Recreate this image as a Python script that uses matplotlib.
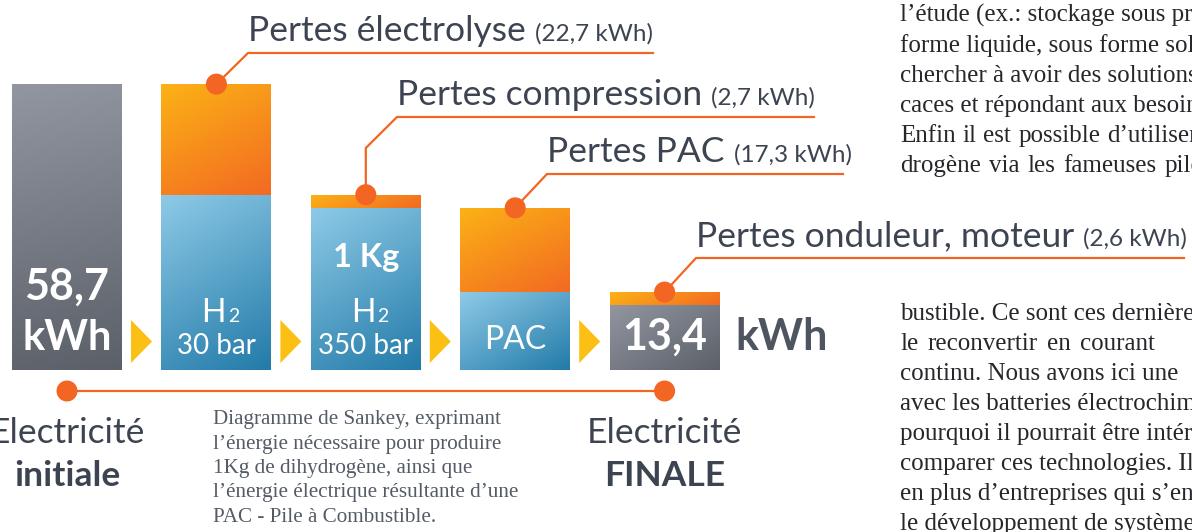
import numpy as np
import matplotlib.pyplot as plt
from matplotlib.patches import Polygon, Circle
from matplotlib.colors import LinearSegmentedColormap

# Energie pour 1 kg de H2 (kWh)
etapes = ["initiale", "H2 30 bar", "H2 350 bar", "PAC", "FINALE"]
energie_utile = [58.7, 36.0, 33.3, 16.0, 13.4]
pertes = [0.0, 22.7, 2.7, 17.3, 2.6]
pertes_noms = ["Pertes électrolyse", "Pertes compression", "Pertes PAC",
               "Pertes onduleur, moteur"]
pertes_kwh = ["22,7", "2,7", "17,3", "2,6"]

W, H = 1192, 532
BASE = 370        # ligne de base des barres (px)
K = 4.87          # px par kWh
SANS = "Lato"
SERIF = "Liberation Serif"
TXT = "#3d4451"
ORANGE = "#f26522"
JAUNE = "#fcbf14"

fig = plt.figure(figsize=(W / 100, H / 100), dpi=100)

# axe des barres en kWh
axb = fig.add_axes([0, 0, 1, 1])
axb.set_xlim(0, W)
axb.set_ylim(-(H - BASE) / K, BASE / K)
axb.axis("off")

# axe en pixels pour les annotations
ax = fig.add_axes([0, 0, 1, 1])
ax.set_xlim(0, W)
ax.set_ylim(H, 0)
ax.axis("off")
ax.patch.set_visible(False)
ax.set_zorder(2)
axb.set_zorder(1)

renderer = fig.canvas.get_renderer()

def largeur(t):
    bb = t.get_window_extent(renderer=renderer)
    return bb.x1 - bb.x0, ax.transData.inverted().transform((bb.x1, bb.y0))[0]

xs = [67 + i * 149.4 for i in range(5)]
bw = 110

def degrade(bar, c0, c1, poids=0.5):
    x0, y0 = bar.get_x(), bar.get_y()
    w, h = bar.get_width(), bar.get_height()
    (p0x, p0y), (p1x, p1y) = axb.transData.transform([(x0, y0), (x0 + w, y0 + h)])
    pw, ph = abs(p1x - p0x), abs(p1y - p0y)
    u = np.linspace(0, 1, 80)[None, :] * pw * poids
    v = np.linspace(0, 1, 80)[:, None] * ph
    t = (u + v) / (pw * poids + ph)
    cmap = LinearSegmentedColormap.from_list("g", [c0, c1])
    im = axb.imshow(t, cmap=cmap, vmin=0, vmax=1, extent=(x0, x0 + w, y0, y0 + h),
                    origin="upper", aspect="auto", interpolation="bilinear")
    im.set_clip_path(bar)
    bar.set_facecolor("none")

gris = ("#9196a0", "#5c6069")
bleu = ("#8ecae7", "#237ba9")
orange = ("#fcb216", "#f26a22")

bas = axb.bar(xs, energie_utile, width=bw, linewidth=0)
hauts = axb.bar(xs, pertes, bottom=energie_utile, width=bw, linewidth=0)
for i, b in enumerate(bas):
    degrade(b, *(gris if i in (0, 4) else bleu), poids=0.2 if i == 0 else 0.6)
for i, b in enumerate(hauts):
    if pertes[i] > 0:
        degrade(b, *orange, poids=0.5)
axb.set_xlim(0, W)
axb.set_ylim(-(H - BASE) / K, BASE / K)

def px(x, val):
    return ax.transData.inverted().transform(axb.transData.transform((x, val)))

# fleches jaunes
for i in range(4):
    xr = xs[i] + bw / 2
    ax.add_patch(Polygon([(xr + 9, 320), (xr + 9, 363), (xr + 30, 341.5)],
                         closed=True, color=JAUNE, lw=0))

# textes dans les barres
ax.text(xs[0], 287, "58,7", color="white", fontsize=31, fontweight="bold",
        family=SANS, ha="center", va="center")
ax.text(xs[0], 338, "kWh", color="white", fontsize=30, fontweight="bold",
        family=SANS, ha="center", va="center")
for i, lab in [(1, "30 bar"), (2, "350 bar")]:
    th = ax.text(xs[i] - 15, 322, "H", color="white", fontsize=23, family=SANS,
                 ha="left", va="baseline")
    _, xe = largeur(th)
    ax.text(xe + 2, 322, "2", color="white", fontsize=14, family=SANS,
            ha="left", va="baseline")
    ax.text(xs[i], 354, lab, color="white", fontsize=20, family=SANS,
            ha="center", va="baseline")
ax.text(xs[2], 257, "1 Kg", color="white", fontsize=23.5, fontweight="bold",
        family=SANS, ha="center", va="center")
ax.text(xs[3], 340, "PAC", color="white", fontsize=23, family=SANS,
        ha="center", va="center")
ax.text(xs[4], 337, "13,4", color="white", fontsize=31, fontweight="bold",
        family=SANS, ha="center", va="center")
ax.text(735, 337, "kWh", color="#4f5461", fontsize=31, fontweight="bold",
        family=SANS, ha="left", va="center")

# legendes des pertes
coudes = [(248, 53), (397, 117), (547, 174), (696, 258)]
fins = [653, 814, 843, 1184]
for k in range(4):
    i = k + 1
    dx, dy = px(xs[i], energie_utile[i] + pertes[i])
    cx, cy = coudes[k]
    if k == 1:
        pts = [(dx, dy), (dx, 148), (cx, cy), (fins[k], cy)]
    else:
        pts = [(dx, dy), (cx, cy), (fins[k], cy)]
    ax.plot([p[0] for p in pts], [p[1] for p in pts], color=ORANGE, lw=1.6,
            solid_joinstyle="miter")
    ax.add_patch(Circle((dx, dy), 10.5, color=ORANGE, lw=0, zorder=3))
    t = ax.text(cx, cy - 12, pertes_noms[k], color=TXT, fontsize=25.5,
                family=SANS, ha="left", va="baseline")
    _, xe = largeur(t)
    ax.text(xe + 9, cy - 12, "(" + pertes_kwh[k] + " kWh)", color=TXT,
            fontsize=17.5, family=SANS, ha="left", va="baseline")

# ligne du bas
ax.plot([xs[0], xs[4]], [391, 391], color=ORANGE, lw=1.6)
for x in (xs[0], xs[4]):
    ax.add_patch(Circle((x, 391), 10.5, color=ORANGE, lw=0, zorder=3))
for x, mot in [(xs[0], "initiale"), (xs[4], "FINALE")]:
    ax.text(x, 433, "Electricité", color=TXT, fontsize=25.5, family=SANS,
            ha="center", va="center")
    ax.text(x, 476, mot, color=TXT, fontsize=25.5, fontweight="bold",
            family=SANS, ha="center", va="center")

legende = ["Diagramme de Sankey, exprimant",
           "l’énergie nécessaire pour produire",
           "1Kg de dihydrogène, ainsi que",
           "l’énergie électrique résultante d’une",
           "PAC - Pile à Combustible."]
for j, ligne in enumerate(legende):
    ax.text(213, 424 + 24.5 * j, ligne, color="#555b66", fontsize=15.2,
            family=SERIF, ha="left", va="baseline")

# texte de l'article a droite
haut = ["l’étude (ex.: stockage sous pression",
        "forme liquide, sous forme solide",
        "chercher à avoir des solutions",
        "caces et répondant aux besoins",
        ["Enfin", "il", "est", "possible", "d’utiliser"],
        ["drogène", "via", "les", "fameuses", "piles"]]
bas_txt = ["bustible. Ce sont ces dernières",
           ["le", "reconvertir", "en", "courant"],
           "continu. Nous avons ici une",
           "avec les batteries électrochimiques",
           "pourquoi il pourrait être intéressant",
           "comparer ces technologies. Il",
           "en plus d’entreprises qui s’engagent",
           "le développement de systèmes"]
# debut du dernier mot des lignes justifiees (px)
dernier_mot = {("h", 4): 1107, ("h", 5): 1165, ("b", 1): 1080}
for bloc, lignes, y0 in [("h", haut, 22), ("b", bas_txt, 320)]:
    for j, ligne in enumerate(lignes):
        y = y0 + 30 * j
        if isinstance(ligne, list):
            objs = [ax.text(900, y, m, color="#26262b", fontsize=18, family=SERIF,
                            ha="left", va="baseline") for m in ligne]
            ws = [largeur(o)[0] for o in objs[:-1]]
            gap = (dernier_mot[(bloc, j)] - 900 - sum(ws)) / (len(ligne) - 1)
            x = 900
            for o, w in zip(objs[:-1], ws):
                o.set_x(x)
                x += w + gap
            objs[-1].set_x(x)
        else:
            ax.text(900, y, ligne, color="#26262b", fontsize=18, family=SERIF,
                    ha="left", va="baseline")

fig.savefig("out.png", dpi=100)
